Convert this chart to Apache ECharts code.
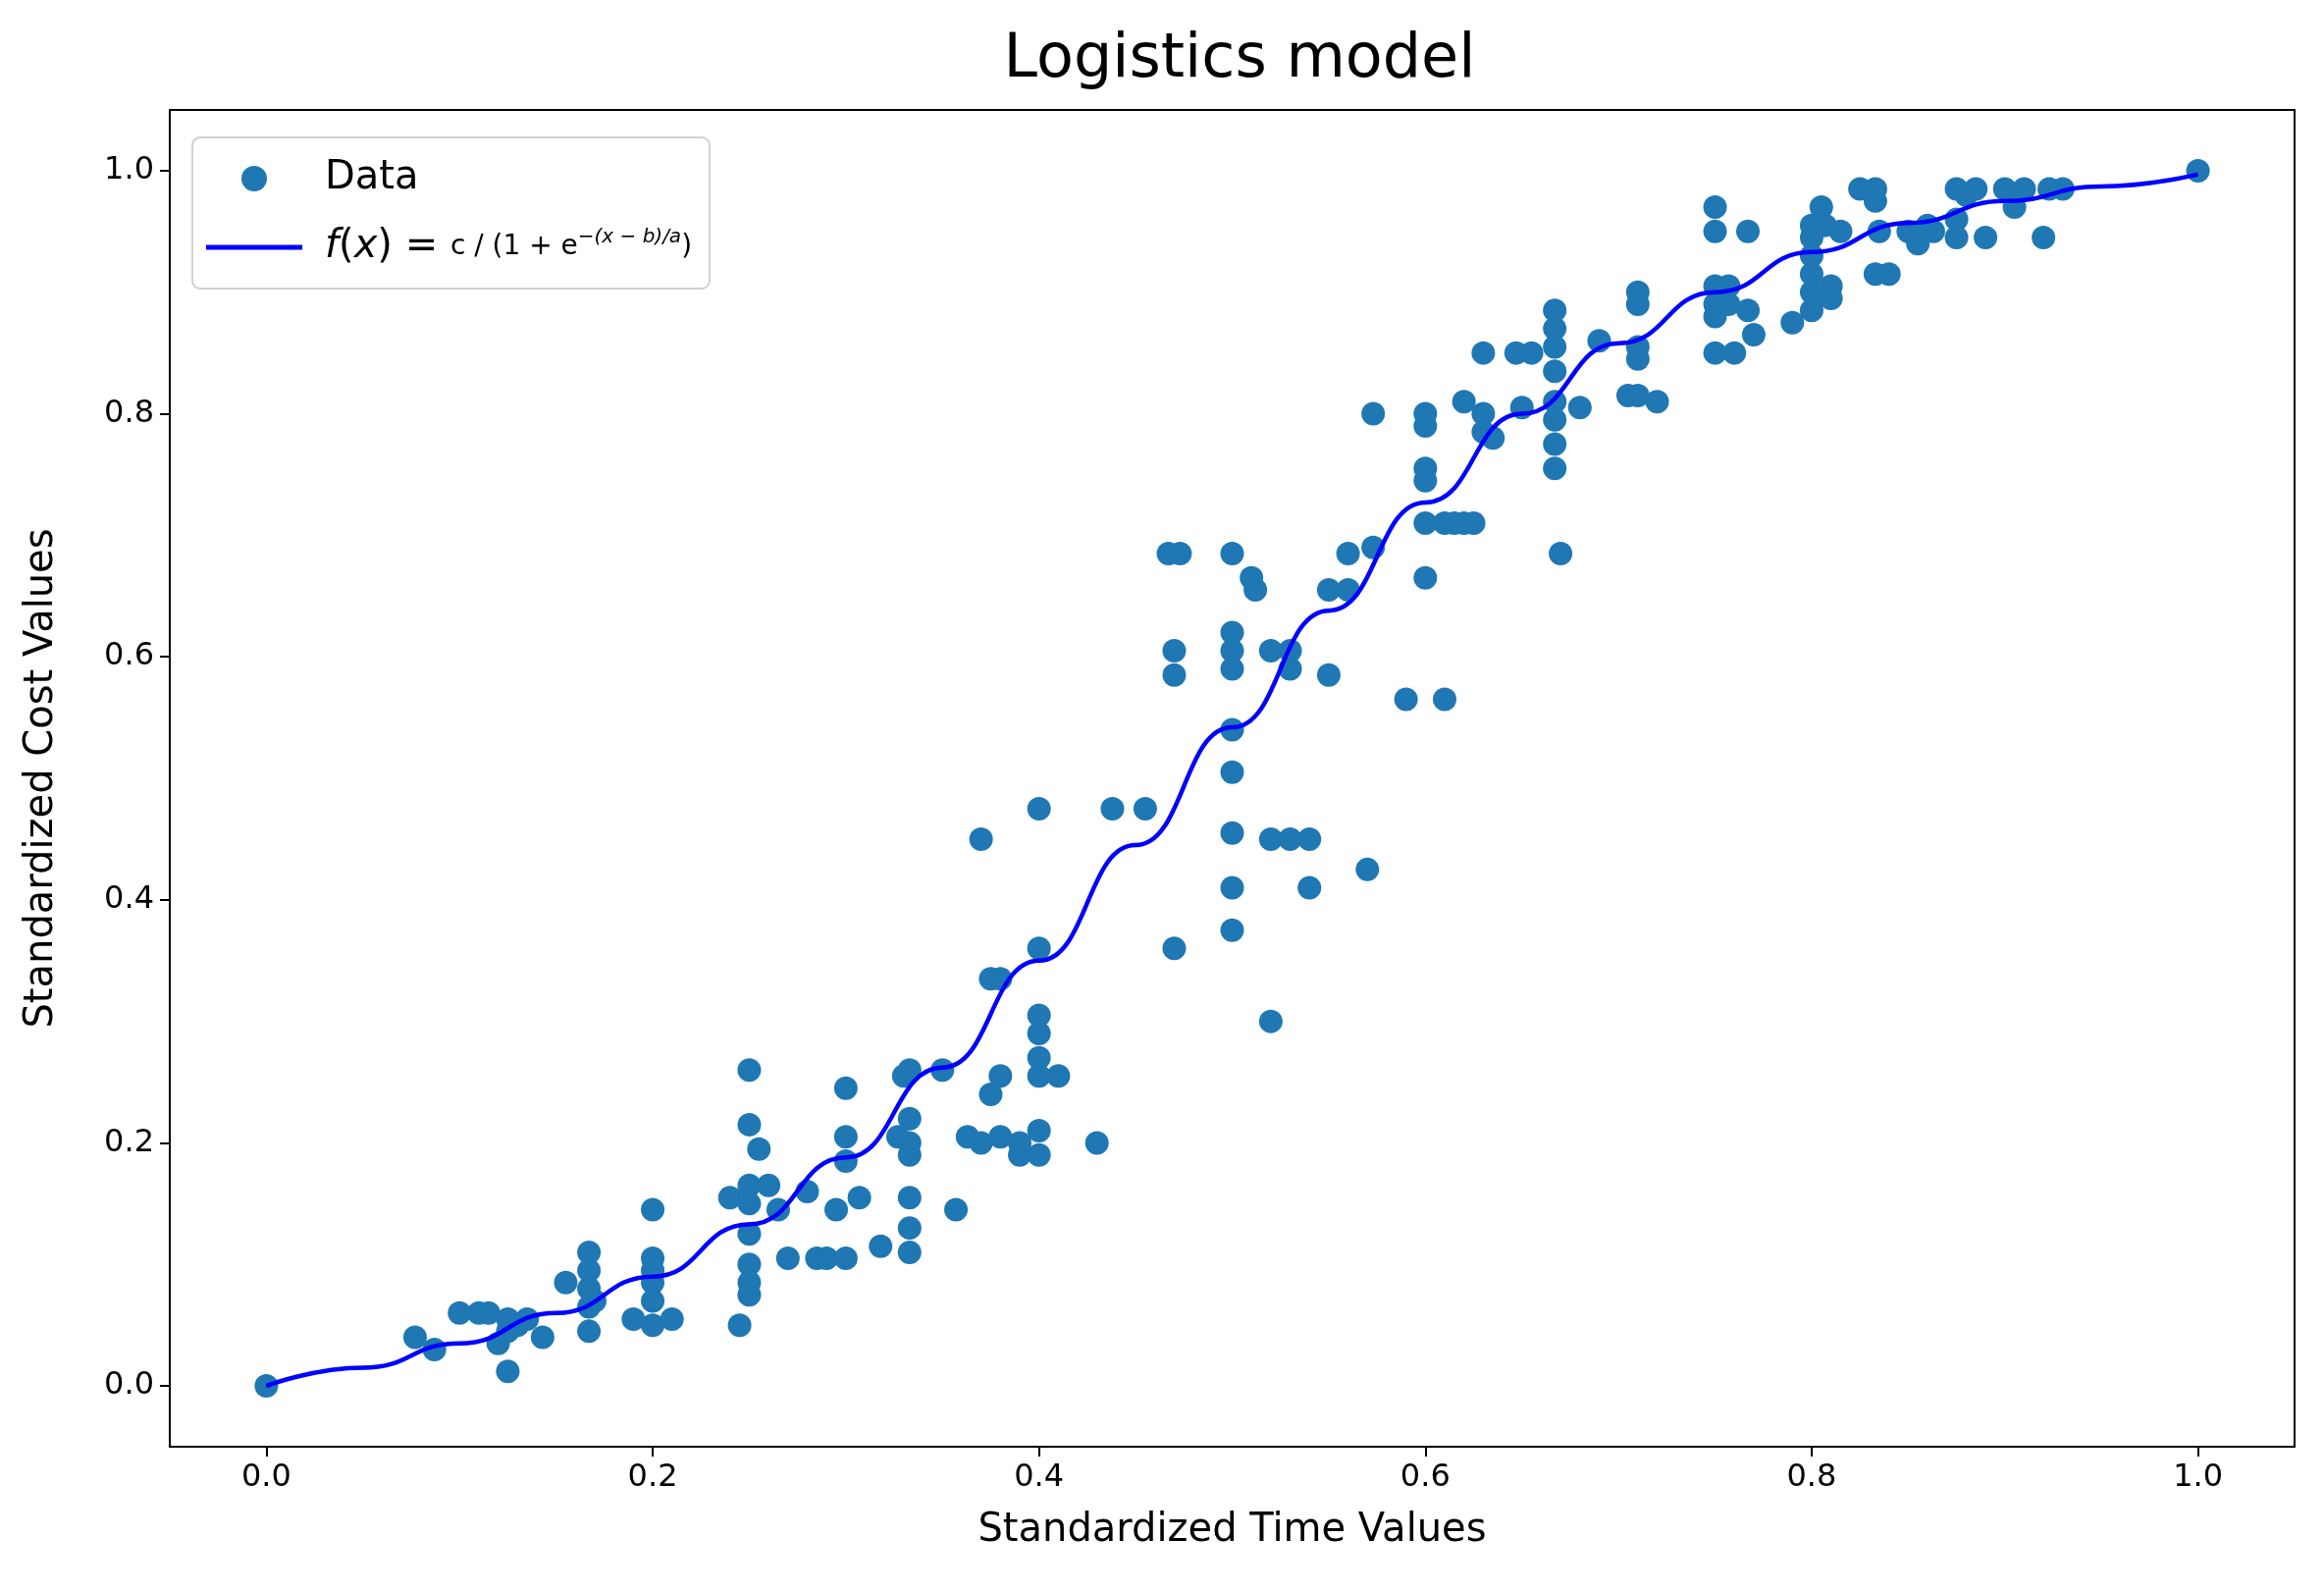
<!DOCTYPE html>
<html><head><meta charset="utf-8">
<script src="https://cdn.jsdelivr.net/npm/echarts@6/dist/echarts.min.js"></script>
<style>html,body{margin:0;padding:0;background:#fff}#c{width:2368px;height:1621px}</style>
</head><body><div id="c"></div>
<script>
const dataX = [0,0.077,0.087,0.10,0.11,0.115,0.12,0.125,0.125,0.13,0.125,0.135,0.143,0.155,0.167,0.167,0.167,0.167,0.167,0.17,0.19,0.2,0.2,0.2,0.2,0.2,0.2,0.21,0.24,0.245,0.25,0.25,0.25,0.25,0.25,0.25,0.25,0.25,0.255,0.26,0.265,0.27,0.28,0.285,0.29,0.295,0.3,0.3,0.3,0.3,0.307,0.318,0.327,0.33,0.333,0.333,0.333,0.333,0.333,0.333,0.333,0.35,0.357,0.363,0.37,0.37,0.375,0.375,0.38,0.38,0.38,0.39,0.39,0.4,0.4,0.4,0.4,0.4,0.4,0.4,0.4,0.41,0.43,0.438,0.455,0.467,0.473,0.47,0.47,0.47,0.5,0.5,0.5,0.5,0.5,0.5,0.5,0.5,0.5,0.51,0.512,0.52,0.52,0.52,0.53,0.53,0.53,0.54,0.54,0.55,0.55,0.56,0.56,0.57,0.573,0.573,0.59,0.6,0.6,0.6,0.6,0.6,0.6,0.61,0.61,0.615,0.62,0.62,0.625,0.63,0.63,0.63,0.635,0.647,0.655,0.65,0.667,0.667,0.667,0.667,0.667,0.667,0.667,0.667,0.67,0.68,0.69,0.705,0.71,0.71,0.71,0.71,0.71,0.72,0.75,0.75,0.75,0.75,0.75,0.75,0.757,0.757,0.76,0.767,0.767,0.77,0.79,0.8,0.8,0.8,0.8,0.8,0.8,0.805,0.807,0.81,0.81,0.815,0.825,0.833,0.833,0.833,0.835,0.84,0.85,0.855,0.86,0.863,0.875,0.875,0.875,0.88,0.885,0.89,0.9,0.905,0.91,0.92,0.923,0.93,1.0];
const dataY = [0,0.04,0.03,0.06,0.06,0.06,0.035,0.045,0.055,0.05,0.012,0.055,0.04,0.085,0.11,0.095,0.08,0.065,0.045,0.07,0.055,0.145,0.105,0.095,0.085,0.07,0.05,0.055,0.155,0.05,0.26,0.215,0.165,0.15,0.125,0.1,0.085,0.075,0.195,0.165,0.145,0.105,0.16,0.105,0.105,0.145,0.105,0.245,0.205,0.185,0.155,0.115,0.205,0.255,0.26,0.22,0.2,0.19,0.155,0.13,0.11,0.26,0.145,0.205,0.45,0.2,0.24,0.335,0.335,0.205,0.255,0.19,0.2,0.475,0.36,0.305,0.29,0.27,0.255,0.21,0.19,0.255,0.2,0.475,0.475,0.685,0.685,0.36,0.605,0.585,0.685,0.62,0.605,0.59,0.54,0.505,0.455,0.41,0.375,0.665,0.655,0.605,0.45,0.3,0.45,0.59,0.605,0.45,0.41,0.585,0.655,0.655,0.685,0.425,0.69,0.8,0.565,0.8,0.79,0.755,0.745,0.71,0.665,0.565,0.71,0.71,0.81,0.71,0.71,0.85,0.8,0.785,0.78,0.85,0.85,0.805,0.885,0.87,0.855,0.835,0.81,0.795,0.775,0.755,0.685,0.805,0.86,0.815,0.9,0.89,0.855,0.845,0.815,0.81,0.97,0.95,0.905,0.89,0.88,0.85,0.905,0.89,0.85,0.885,0.95,0.865,0.875,0.955,0.945,0.93,0.915,0.9,0.885,0.97,0.955,0.905,0.895,0.95,0.985,0.985,0.975,0.915,0.95,0.915,0.95,0.94,0.955,0.95,0.985,0.96,0.945,0.98,0.985,0.945,0.985,0.97,0.985,0.945,0.985,0.985,1.0];
const fitX = [0,0.05,0.1,0.15,0.2,0.25,0.3,0.35,0.4,0.45,0.5,0.55,0.6,0.65,0.7,0.75,0.8,0.85,0.9,0.95,1.0];
const fitY = [0,0.015,0.035,0.06,0.09,0.133,0.188,0.262,0.35,0.445,0.542,0.638,0.727,0.800,0.858,0.900,0.933,0.957,0.975,0.987,0.997];
const ticks = [0,0.2,0.4,0.6,0.8,1.0];

const font = 'DejaVu Sans';
const axisCommon = {
  type:'value', min:-0.05, max:1.05,
  axisLine:{show:true, onZero:false, lineStyle:{color:'#000',width:2}},
  axisTick:{show:true, customValues:ticks, length:10, inside:false, lineStyle:{color:'#000',width:2}},
  axisLabel:{customValues:ticks, formatter:v=>v.toFixed(1), color:'#000', fontSize:32, fontFamily:font, margin:16},
  splitLine:{show:false},
  nameLocation:'middle', nameTextStyle:{color:'#000', fontSize:40, fontFamily:font}
};
const chart = echarts.init(document.getElementById('c'));
chart.setOption({
  backgroundColor:'#fff',
  animation:false,
  title:{text:'Logistics model', left:1258, textAlign:'center', top:26, textStyle:{fontSize:62, fontWeight:'normal', color:'#000', fontFamily:font}},
  grid:{left:173, right:30, top:112, bottom:147, show:true, borderColor:'#000', borderWidth:2, backgroundColor:'transparent'},
  xAxis:Object.assign({}, axisCommon, {name:'Standardized Time Values', nameGap:66}),
  yAxis:Object.assign({}, axisCommon, {name:'Standardized Cost Values', nameGap:110}),
  legend:{
    orient:'vertical', left:196, top:140, padding:[22,18,22,14],
    borderColor:'#d0d0d0', borderWidth:2, borderRadius:8, backgroundColor:'#fff',
    itemWidth:98, itemHeight:26, itemGap:30,
    data:[{name:'Data', icon:'circle'}, {name:'fit', icon:'path://M0,0H100V5H0Z'}],
    textStyle:{fontSize:40, fontFamily:font, color:'#000', padding:[0,0,0,18],
      rich:{
        it:{fontStyle:'italic', fontSize:40, fontFamily:font},
        n:{fontSize:40, fontFamily:font},
        s:{fontSize:28, fontFamily:font},
        sup:{fontSize:20, fontFamily:font, fontStyle:'italic', verticalAlign:'top', padding:[0,0,16,0]}
      }},
    formatter: n => n==='Data' ? 'Data' : '{it|f}{n|(}{it|x}{n|) = }{s|c / (1 + e}{sup|−(x − b)/a}{s|)}'
  },
  series:[
    {name:'Data', type:'scatter', symbolSize:24, itemStyle:{color:'#1f77b4', opacity:1},
     data:dataX.map((x,i)=>[x,dataY[i]]), z:2},
    {name:'fit', type:'line', smooth:0.5, smoothMonotone:'x', showSymbol:false, symbol:'none',
     lineStyle:{color:'#0000ff', width:4.5}, itemStyle:{color:'#0000ff'},
     data:fitX.map((x,i)=>[x,fitY[i]]), z:3}
  ]
});
</script></body></html>
